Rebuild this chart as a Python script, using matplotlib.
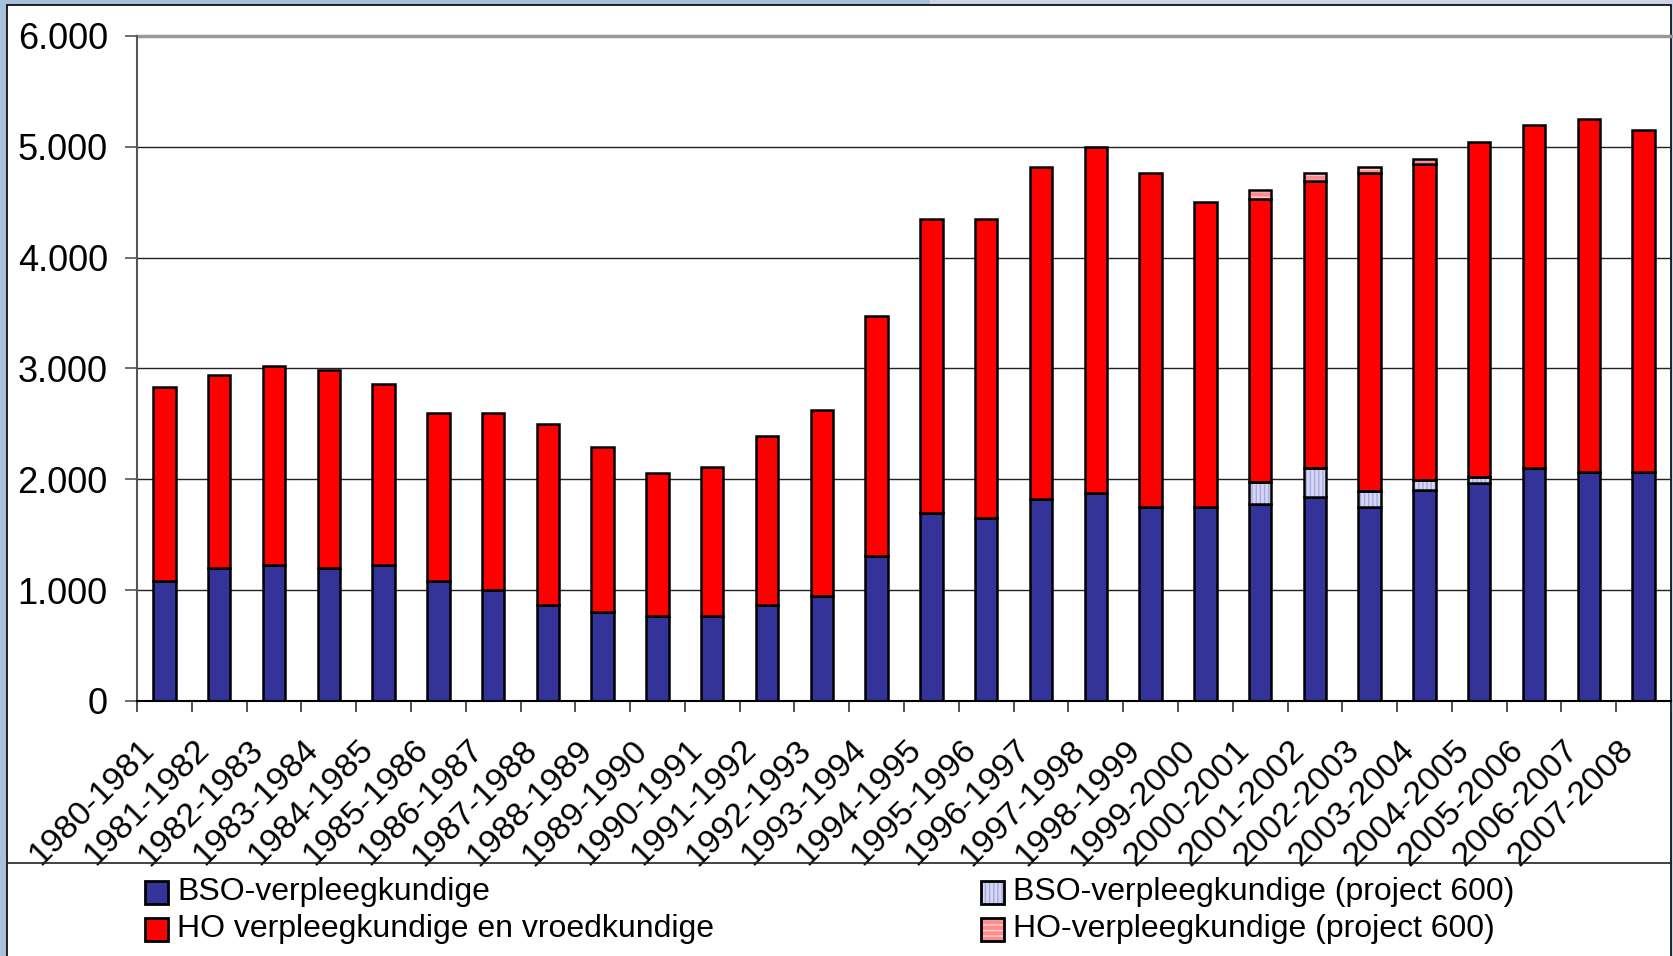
import matplotlib
matplotlib.use('Agg')
import matplotlib.pyplot as plt
import matplotlib.transforms as mtransforms
from matplotlib.patches import Rectangle
from matplotlib.lines import Line2D
import numpy as np

# school years
years = ['1980-1981', '1981-1982', '1982-1983', '1983-1984', '1984-1985',
         '1985-1986', '1986-1987', '1987-1988', '1988-1989', '1989-1990',
         '1990-1991', '1991-1992', '1992-1993', '1993-1994', '1994-1995',
         '1995-1996', '1996-1997', '1997-1998', '1998-1999', '1999-2000',
         '2000-2001', '2001-2002', '2002-2003', '2003-2004', '2004-2005',
         '2005-2006', '2006-2007', '2007-2008']

bso = [1080, 1200, 1230, 1200, 1230, 1080, 1000, 870, 800, 770,
       770, 870, 950, 1310, 1700, 1650, 1820, 1880, 1750, 1750,
       1775, 1845, 1750, 1900, 1970, 2100, 2070, 2070]
bso600 = [0, 0, 0, 0, 0, 0, 0, 0, 0, 0,
          0, 0, 0, 0, 0, 0, 0, 0, 0, 0,
          200, 255, 145, 96, 50, 0, 0, 0]
ho = [1750, 1740, 1790, 1790, 1630, 1520, 1600, 1630, 1490, 1290,
      1340, 1520, 1680, 2160, 2650, 2700, 3000, 3120, 3010, 2750,
      2555, 2590, 2870, 2850, 3025, 3100, 3180, 3080]
ho600 = [0, 0, 0, 0, 0, 0, 0, 0, 0, 0,
         0, 0, 0, 0, 0, 0, 0, 0, 0, 0,
         80, 75, 55, 48, 0, 0, 0, 0]

labels = ['BSO-verpleegkundige', 'HO verpleegkundige en vroedkundige',
          'BSO-verpleegkundige (project 600)', 'HO-verpleegkundige (project 600)']

W, H = 1673, 956
fig = plt.figure(figsize=(W / 100, H / 100), dpi=100)
fig.patch.set_facecolor('#a8c0da')

# light strip at top right and white chart frame (behind the axes)
fig.add_artist(Rectangle((930 / W, 0), 1, 1, transform=fig.transFigure,
                         facecolor='#cdd3e6', edgecolor='none', zorder=-2))
fig.add_artist(Rectangle((7 / W, -0.02), 1664 / W, 1.02 - 5 / H, transform=fig.transFigure,
                         facecolor='white', edgecolor='black', lw=1.2, zorder=-1))
fig.add_artist(Line2D([7 / W, 1671 / W], [1 - 863 / H] * 2, transform=fig.transFigure,
                      color='#222222', lw=1.2))

ax = fig.add_axes([137 / W, 1 - 701 / H, (1671 - 137) / W, (701 - 36) / H])
ax.set_facecolor('none')

x = np.arange(len(years))
bw = 0.41
bso = np.array(bso)
bso600 = np.array(bso600)
ho = np.array(ho)
ho600 = np.array(ho600)

b1 = bso
b2 = b1 + bso600
b3 = b2 + ho

ax.bar(x, bso, bw, color='#333399', edgecolor='black', lw=1.8, zorder=3)
m = bso600 > 0
ax.bar(x[m], bso600[m], bw, bottom=b1[m], color='#d6d6f5', edgecolor='#a8a8dc',
       hatch='||||', lw=0, zorder=3)
ax.bar(x[m], bso600[m], bw, bottom=b1[m], fill=False, edgecolor='black', lw=1.8, zorder=4)
ax.bar(x, ho, bw, bottom=b2, color='#ff0000', edgecolor='black', lw=1.8, zorder=3)
m = ho600 > 0
ax.bar(x[m], ho600[m], bw, bottom=b3[m], color='#ff8c8c', edgecolor='#ffd0d0',
       hatch='---', lw=0, zorder=3)
ax.bar(x[m], ho600[m], bw, bottom=b3[m], fill=False, edgecolor='black', lw=1.8, zorder=4)

ax.set_xlim(-0.5, len(years) - 0.5)
ax.set_ylim(0, 6000)
ax.set_yticks(np.arange(0, 6001, 1000))
ax.set_yticklabels(['{:,.0f}'.format(v).replace(',', '.') for v in np.arange(0, 6001, 1000)],
                   fontsize=26, family='Liberation Sans')
ax.tick_params(axis='y', length=9, width=1.2, color='#555555', pad=12)
for v in range(1000, 6000, 1000):
    ax.axhline(v, color='#222222', lw=1.0, zorder=1)
ax.axhline(6000, color='#999999', lw=2.5, zorder=1, clip_on=False)

# tick marks on the category boundaries, labels on the centres
ax.set_xticks(np.arange(-0.5, len(years)), minor=False)
ax.set_xticklabels([])
ax.tick_params(axis='x', which='major', length=8, width=1.2, color='#333333')
ax.set_xticks(x, minor=True)
ax.set_xticklabels(years, minor=True, rotation=45, ha='right', va='top',
                   rotation_mode='anchor', fontsize=24.5, family='Liberation Sans')
ax.tick_params(axis='x', which='minor', length=0, pad=24)
offset = mtransforms.ScaledTranslation(-26 / 100, 0, fig.dpi_scale_trans)
for lab in ax.get_xticklabels(minor=True):
    lab.set_transform(lab.get_transform() + offset)

for s in ['top', 'right']:
    ax.spines[s].set_visible(False)
ax.spines['left'].set_color('#555555')
ax.spines['left'].set_linewidth(1.5)
ax.spines['bottom'].set_color('black')
ax.spines['bottom'].set_linewidth(1.5)
ax.spines['bottom'].set_zorder(5)

# legend, drawn by hand
leg = [(145, 892, '#333399', None, None, labels[0]),
       (145, 929, '#ff0000', None, None, labels[1]),
       (981, 892, '#d6d6f5', '||||', '#a8a8dc', labels[2]),
       (981, 929, '#ff8c8c', '---', '#ffd0d0', labels[3])]
for lx, ly, fc, hatch, hc, txt in leg:
    sz = 23
    if hatch:
        fig.add_artist(Rectangle((lx / W, 1 - (ly + sz / 2) / H), sz / W, sz / H,
                                 transform=fig.transFigure, facecolor=fc, edgecolor=hc,
                                 hatch=hatch, lw=0))
        fig.add_artist(Rectangle((lx / W, 1 - (ly + sz / 2) / H), sz / W, sz / H,
                                 transform=fig.transFigure, fill=False, edgecolor='black', lw=2))
    else:
        fig.add_artist(Rectangle((lx / W, 1 - (ly + sz / 2) / H), sz / W, sz / H,
                                 transform=fig.transFigure, facecolor=fc, edgecolor='black', lw=2))
    fig.text((lx + sz + 9) / W, 1 - ly / H, txt, fontsize=23, family='Liberation Sans',
             va='center', ha='left')

fig.savefig('out.png', dpi=100, facecolor=fig.get_facecolor())
